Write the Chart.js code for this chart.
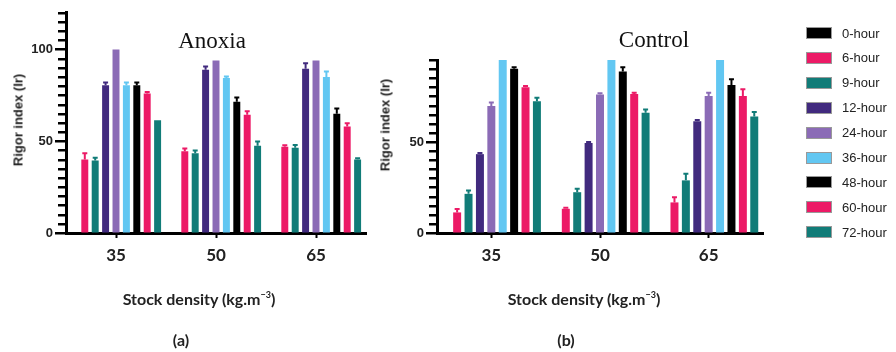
<!DOCTYPE html>
<html>
<head>
<meta charset="utf-8">
<script src="https://cdn.jsdelivr.net/npm/chart.js@4.4.4/dist/chart.umd.min.js"></script>
<style>
  body { margin: 0; background: #fff; width: 896px; height: 352px; position: relative; overflow: hidden; font-family: "Liberation Sans", Arial, sans-serif; }
  canvas { position: absolute; top: 0; }
  #anoxia { left: 0; }
  #control { left: 370px; }
  .txt { position: absolute; white-space: nowrap; color: #222; transform: translate(-50%, -50%); }
  .ytitle { font-weight: bold; font-size: 13px; transform: translate(-50%, -50%) rotate(-90deg); }
  .panel { font-family: "Liberation Serif", "Times New Roman", serif; font-size: 23px; color: #111; }
  .xtitle { font-family: Lato, sans-serif; font-weight: bold; font-size: 16px; }
  .xtitle sup { font-size: 9px; }
  .tag { font-family: Lato, sans-serif; font-weight: bold; font-size: 16px; }
  .legend-row { position: absolute; left: 806px; height: 14px; display: flex; align-items: center; font-size: 13px; color: #222; }
  .legend-row span.sw { width: 24px; height: 10px; border: 1px solid #999; margin-right: 10px; }
</style>
</head>
<body>
<canvas id="anoxia" width="380" height="352"></canvas>
<canvas id="control" width="400" height="352"></canvas>

<div class="txt ytitle" style="left:18px; top:120px;">Rigor index (Ir)</div>
<div class="txt ytitle" style="left:385px; top:125px;">Rigor index (Ir)</div>
<div class="txt panel" style="left:212px; top:41px;">Anoxia</div>
<div class="txt panel" style="left:654px; top:40px;">Control</div>
<div class="txt xtitle" style="left:199px; top:298px;">Stock density (kg.m<sup>−3</sup>)</div>
<div class="txt xtitle" style="left:584px; top:298px;">Stock density (kg.m<sup>−3</sup>)</div>
<div class="txt tag" style="left:181px; top:339px;">(a)</div>
<div class="txt tag" style="left:566px; top:339px;">(b)</div>
<div id="legend"></div>

<script>
const densities = ["35", "50", "65"];
const hours = ["0-hour", "6-hour", "9-hour", "12-hour", "24-hour", "36-hour", "48-hour", "60-hour", "72-hour"];
const hourColors = ["#000000", "#ec1a66", "#117c78", "#412a7e", "#8b6bb6", "#62c7f2", "#000000", "#ec1a66", "#117c78"];

// Anoxia, mean rigor index per stock density
const anoxia0h = [null, null, null];
const anoxia6h = [40, 44.5, 47];
const anoxia9h = [39.5, 43.5, 46.5];
const anoxia12h = [80.5, 89, 89.5];
const anoxia24h = [100, 94, 94];
const anoxia36h = [80.5, 84.5, 85];
const anoxia48h = [80.5, 71.5, 65];
const anoxia60h = [76, 64.5, 58];
const anoxia72h = [61.5, 47.5, 40];

const anoxia0hErr = [0, 0, 0];
const anoxia6hErr = [3.5, 1.5, 0.8];
const anoxia9hErr = [1.5, 1.5, 1.4];
const anoxia12hErr = [1.5, 1.8, 3];
const anoxia24hErr = [0, 0, 0];
const anoxia36hErr = [1.5, 0.8, 3];
const anoxia48hErr = [1.5, 2.3, 2.8];
const anoxia60hErr = [0.8, 1.8, 1.8];
const anoxia72hErr = [0, 2.3, 0.8];

// Control
const control0h = [null, null, null];
const control6h = [11.3, 13.3, 16.8];
const control9h = [21.5, 22.4, 28.9];
const control12h = [43.3, 49.4, 61.3];
const control24h = [69.8, 76, 75.2];
const control36h = [100, 100, 100];
const control48h = [90.2, 88.7, 81.3];
const control60h = [80, 76.3, 75.2];
const control72h = [72.4, 66, 64];

const control0hErr = [0, 0, 0];
const control6hErr = [1.9, 0.5, 2.8];
const control9hErr = [1.8, 1.9, 3.7];
const control12hErr = [0.6, 0.6, 0.8];
const control24hErr = [1.9, 0.8, 1.8];
const control36hErr = [0, 0, 0];
const control48hErr = [0.8, 2.3, 3.1];
const control60hErr = [0.7, 0.7, 3.7];
const control72hErr = [1.9, 1.8, 2.5];

const anoxiaTicksMax = 120;
const controlTicksMax = 95;
const minorStep = 5;
const majorStep = 50;

// upward-only error bars in the bar's own colour
const errorBars = {
  id: "errorBars",
  afterDatasetsDraw(chart) {
    const { ctx, chartArea, scales: { y } } = chart;
    ctx.save();
    ctx.beginPath();
    ctx.rect(chartArea.left, chartArea.top, chartArea.width, chartArea.height);
    ctx.clip();
    chart.data.datasets.forEach((ds, i) => {
      const meta = chart.getDatasetMeta(i);
      meta.data.forEach((bar, j) => {
        const v = ds.data[j];
        const e = ds.errors[j];
        if (v == null || !e) {
          return;
        }
        const top = y.getPixelForValue(v + e);
        ctx.strokeStyle = ds.backgroundColor;
        ctx.lineWidth = 2;
        ctx.beginPath();
        ctx.moveTo(bar.x, bar.y);
        ctx.lineTo(bar.x, top);
        ctx.moveTo(bar.x - 2.5, top);
        ctx.lineTo(bar.x + 2.5, top);
        ctx.stroke();
      });
    });
    ctx.restore();
  }
};

// y tick marks every minor step, longer at the labelled values
const yTickMarks = {
  id: "yTickMarks",
  afterDraw(chart) {
    const { ctx, chartArea, scales: { y } } = chart;
    ctx.save();
    ctx.fillStyle = "#000";
    for (let v = y.min; v <= y.max; v += minorStep) {
      const py = Math.round(y.getPixelForValue(v));
      const len = v % majorStep === 0 ? 11 : 8;
      ctx.fillRect(chartArea.left - len, py - 1, len, 2.5);
    }
    ctx.restore();
  }
};

function buildChart(canvasId, series, errors, yMax, opts) {
  const datasets = hours.map((label, i) => ({
    label,
    data: series[i],
    errors: errors[i],
    backgroundColor: hourColors[i],
    borderWidth: 0,
    categoryPercentage: opts.catPct,
    barPercentage: opts.barPct
  }));

  return new Chart(document.getElementById(canvasId), {
    type: "bar",
    data: { labels: densities, datasets },
    plugins: [errorBars, yTickMarks],
    options: {
      responsive: false,
      animation: false,
      devicePixelRatio: 1,
      layout: { padding: { left: 0, right: opts.padRight, top: opts.padTop, bottom: 0 } },
      plugins: { legend: { display: false }, tooltip: { enabled: false } },
      scales: {
        x: {
          border: { color: "#000", width: 3 },
          grid: { drawOnChartArea: false, offset: false, tickLength: 5, tickWidth: 2, tickColor: "#000" },
          ticks: { color: "#222", padding: 7, font: { family: "Lato", weight: "bold", size: 17 } },
          afterFit(scale) { scale.height = 119; }
        },
        y: {
          min: 0,
          max: yMax,
          border: { color: "#000", width: 3 },
          grid: { drawOnChartArea: false, tickLength: 8, tickColor: "rgba(0,0,0,0)" },
          ticks: {
            stepSize: majorStep,
            padding: 5,
            color: "#222",
            font: { family: "Liberation Sans", weight: "bold", size: 13 },
            callback: (v) => (v % majorStep === 0 ? v : "")
          },
          afterFit(scale) { scale.width = opts.axisWidth; }
        }
      }
    }
  });
}

buildChart(
  "anoxia",
  [anoxia0h, anoxia6h, anoxia9h, anoxia12h, anoxia24h, anoxia36h, anoxia48h, anoxia60h, anoxia72h],
  [anoxia0hErr, anoxia6hErr, anoxia9hErr, anoxia12hErr, anoxia24hErr, anoxia36hErr, anoxia48hErr, anoxia60hErr, anoxia72hErr],
  anoxiaTicksMax,
  { catPct: 0.936, barPct: 0.67, padRight: 14, padTop: 12, axisWidth: 66 }
);

buildChart(
  "control",
  [control0h, control6h, control9h, control12h, control24h, control36h, control48h, control60h, control72h],
  [control0hErr, control6hErr, control9hErr, control12hErr, control24hErr, control36hErr, control48hErr, control60hErr, control72hErr],
  controlTicksMax,
  { catPct: 0.944, barPct: 0.7, padRight: 7, padTop: 60, axisWidth: 67 }
);

// shared legend for both panels
const legend = document.getElementById("legend");
hours.forEach((label, i) => {
  const row = document.createElement("div");
  row.className = "legend-row";
  row.style.top = (26 + i * 24.9) + "px";
  const sw = document.createElement("span");
  sw.className = "sw";
  sw.style.background = hourColors[i];
  row.appendChild(sw);
  row.appendChild(document.createTextNode(label));
  legend.appendChild(row);
});
</script>
</body>
</html>
